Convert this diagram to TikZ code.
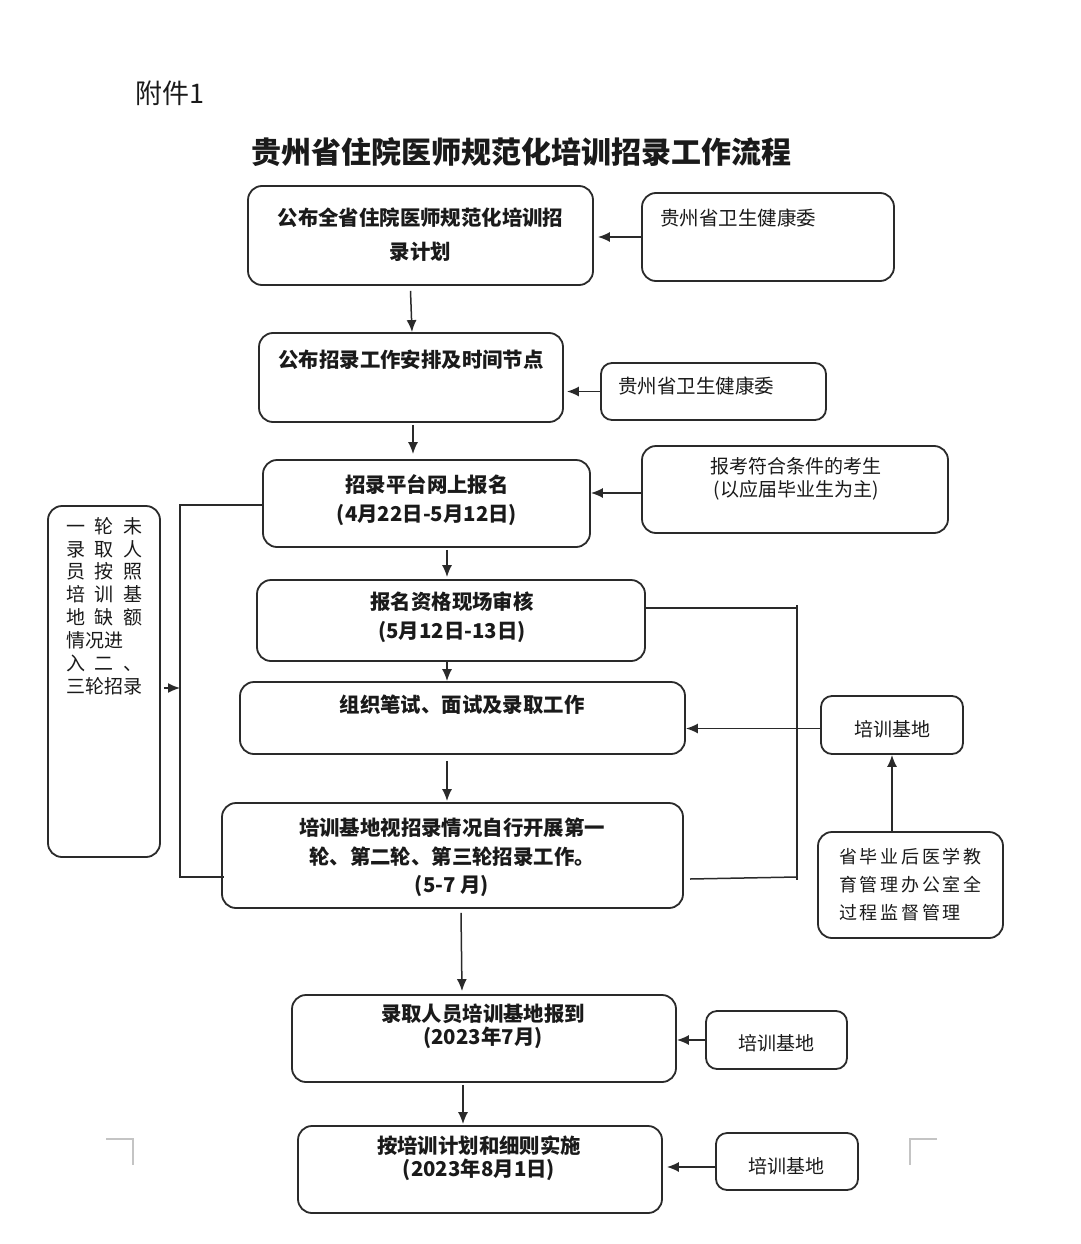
\documentclass[tikz,border=0pt]{standalone}
\usepackage{fontspec}
\setmainfont{Noto Sans CJK SC}
\usetikzlibrary{arrows.meta,calc}
\definecolor{linec}{HTML}{2A2A2A}
\definecolor{txt}{HTML}{1A1A1A}
\definecolor{markc}{HTML}{C4C4C4}
\begin{document}
\begin{tikzpicture}[x=1pt,y=-1pt,
  box/.style={draw=linec, line width=1.8pt, rounded corners=14pt, inner sep=0pt},
  sbox/.style={box, rounded corners=11pt},
  arr/.style={-{Latex[length=12pt,width=10pt]}, line width=1.5pt, draw=linec},
  ln/.style={line width=1.5pt, draw=linec},
  bt/.style={align=center, text=txt, inner sep=0pt},
  rt/.style={text=txt, inner sep=0pt},
  cmark/.style={line width=1.6pt, draw=markc}
]
\fill[white] (0,0) rectangle (1080,1244);
\useasboundingbox (0,0) rectangle (1080,1244);

% titles
\node[rt, font=\fontsize{27}{30}\selectfont] (att) at (170,93) {附件1};
\node[rt, font=\fontsize{30}{34}\selectfont\bfseries] (title) at (521,152) {贵州省住院医师规范化培训招录工作流程};

% main boxes
\node[box, minimum width=345pt, minimum height=99pt] (A) at (420.5,235.5) {};
\node[bt, font=\fontsize{20.4}{34}\selectfont\bfseries] (At) at (420.5,235) {公布全省住院医师规范化培训招\\录计划};

\node[box, minimum width=304pt, minimum height=89pt] (B) at (411,377.5) {};
\node[bt, font=\fontsize{20.4}{29}\selectfont\bfseries] (Bt) at (411,360) {公布招录工作安排及时间节点};

\node[box, minimum width=327pt, minimum height=87pt] (C) at (426.5,503.5) {};
\node[bt, font=\fontsize{20.4}{29}\selectfont\bfseries] (Ct) at (427,500.5) {招录平台网上报名\\(4月22日-5月12日)};

\node[box, minimum width=388pt, minimum height=81pt] (D) at (451,620.5) {};
\node[bt, font=\fontsize{20.4}{29}\selectfont\bfseries] (Dt) at (452,617.5) {报名资格现场审核\\(5月12日-13日)};

\node[box, minimum width=445pt, minimum height=72pt] (E) at (462.5,718) {};
\node[bt, font=\fontsize{20.4}{29}\selectfont\bfseries] (Et) at (462,705) {组织笔试、面试及录取工作};

\node[box, minimum width=461pt, minimum height=105pt] (F) at (452.5,855.5) {};
\node[bt, font=\fontsize{20.4}{28.5}\selectfont\bfseries] (Ft) at (452,857.5) {培训基地视招录情况自行开展第一\\轮、第二轮、第三轮招录工作。\\(5-7 月)};

\node[box, minimum width=384pt, minimum height=87pt] (G) at (484,1038.5) {};
\node[bt, font=\fontsize{20.4}{23}\selectfont\bfseries] (Gt) at (483,1026.5) {录取人员培训基地报到\\(2023年7月)};

\node[box, minimum width=364pt, minimum height=87pt] (H) at (480,1169.5) {};
\node[bt, font=\fontsize{20.4}{23}\selectfont\bfseries] (Ht) at (479,1158.5) {按培训计划和细则实施\\(2023年8月1日)};

% right boxes
\node[box, minimum width=252pt, minimum height=88pt] (Ar) at (768,237) {};
\node[rt, anchor=west, font=\fontsize{19.5}{23}\selectfont] (Art) at (660,218) {贵州省卫生健康委};

\node[sbox, minimum width=225pt, minimum height=57pt] (Br) at (713.5,391.5) {};
\node[rt, anchor=west, font=\fontsize{19.5}{23}\selectfont] (Brt) at (618,386) {贵州省卫生健康委};

\node[box, minimum width=306pt, minimum height=87pt] (Cr) at (795,489.5) {};
\node[bt, font=\fontsize{19}{23}\selectfont] (Crt) at (796,478.5) {报考符合条件的考生\\(以应届毕业生为主)};

\node[sbox, minimum width=142pt, minimum height=58pt] (Er) at (892,725) {};
\node[rt, font=\fontsize{19}{23}\selectfont] (Ert) at (892,729) {培训基地};

\node[box, minimum width=185pt, minimum height=106pt] (S) at (910.5,885) {};
\node[rt, anchor=west, align=left, font=\fontsize{18}{28}\selectfont\addfontfeature{LetterSpace=15}] (St) at (839,885) {省毕业后医学教\\育管理办公室全\\过程监督管理};

\node[sbox, minimum width=141pt, minimum height=58pt] (Gr) at (776.5,1040) {};
\node[rt, font=\fontsize{19}{23}\selectfont] (Grt) at (776,1043) {培训基地};

\node[sbox, minimum width=142pt, minimum height=57pt] (Hr) at (787,1161.5) {};
\node[rt, font=\fontsize{19}{23}\selectfont] (Hrt) at (786,1166) {培训基地};

% left box
\node[box, minimum width=112pt, minimum height=351pt] (L) at (104,681.5) {};
\node[rt, align=left, font=\fontsize{19}{22.9}\selectfont] (Lt) at ($(L.north)+(0,101)$) {%
\makebox[76pt][s]{一\hfill 轮\hfill 未}\\
\makebox[76pt][s]{录\hfill 取\hfill 人}\\
\makebox[76pt][s]{员\hfill 按\hfill 照}\\
\makebox[76pt][s]{培\hfill 训\hfill 基}\\
\makebox[76pt][s]{地\hfill 缺\hfill 额}\\
情况进\\
\makebox[76pt][s]{入\hfill 二\hfill 、}\\
三轮招录};

% main flow arrows
\draw[arr] ([xshift=-10pt,yshift=-5pt]A.south) -- ([xshift=1pt]B.north);
\draw[arr] ([xshift=2pt,yshift=-2pt]B.south) -- ([xshift=-13.5pt,yshift=5pt]C.north);
\draw[arr] ([xshift=20.5pt,yshift=-2pt]C.south) -- ([xshift=-4pt,yshift=2pt]D.north);
\draw[arr] ([xshift=-4pt]D.south) -- ([xshift=-15.5pt]E.north);
\draw[arr] ([xshift=-15.5pt,yshift=-6pt]E.south) -- ([xshift=-5.5pt,yshift=1pt]F.north);
\draw[arr] ([xshift=8.5pt,yshift=-4pt]F.south) -- ([xshift=-22pt,yshift=3pt]G.north);
\draw[arr] ([xshift=-21pt,yshift=-2pt]G.south) -- ([xshift=-17pt,yshift=1pt]H.north);

% side arrows
\draw[arr] (Ar.west) -- ($(A.east |- Ar.west)+(4,0)$);
\draw[arr] (Br.west) -- ($(B.east |- Br.west)+(3,0)$);
\draw[arr] ($(Cr.west)+(0,3.5)$) -- ($(C.east |- Cr.west)+(0,3.5)$);
\draw[arr] ($(Er.west)+(0,3.5)$) -- ($(E.east |- Er.west)+(0,3.5)$);
\draw[arr] (S.north -| Er.south) -- (Er.south);
\draw[arr] (Gr.west) -- (G.east |- Gr.west);
\draw[arr] ($(Hr.west)+(0,5.5)$) -- ($(H.east |- Hr.west)+(4,5.5)$);

% left loop
\coordinate (lt) at (180,505);
\coordinate (lb) at (180,877);
\coordinate (lm) at (180,688);
\draw[ln] (C.west |- lt) -- (lt) -- (lb) -- ($(F.west |- lb)+(3,0)$);
\draw[arr] ($(L.east |- lm)+(3,0)$) -- (lm);

% right loop
\coordinate (rtop) at (797,608);
\coordinate (rbot) at (797,877);
\coordinate (fb) at (690,879);
\draw[ln] (D.east |- rtop) -- (rtop);
\draw[ln] ($(rtop)+(0,-3)$) -- ($(rbot)+(0,3)$);
\draw[ln] (fb) -- (rbot);

% corner marks
\draw[cmark] (106,1139) -- (133,1139) -- (133,1165);
\draw[cmark] (937,1139) -- (910,1139) -- (910,1165);
\end{tikzpicture}
\end{document}
